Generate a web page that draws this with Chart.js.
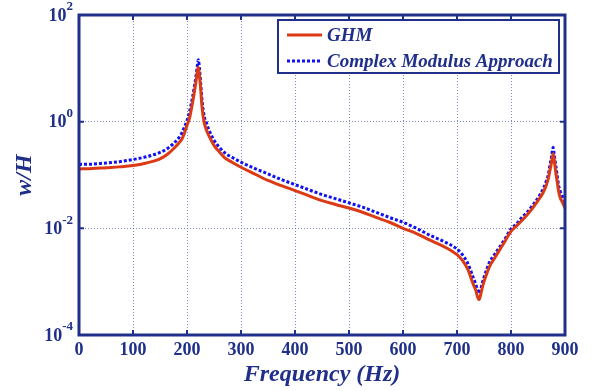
<!DOCTYPE html>
<html>
<head>
<meta charset="utf-8">
<script src="https://cdn.jsdelivr.net/npm/chart.js@4/dist/chart.umd.min.js"></script>
<style>
  html, body { margin: 0; padding: 0; background: #fff; }
  #wrap { width: 592px; height: 391px; }
</style>
</head>
<body>
<div id="wrap"><canvas id="frf"></canvas></div>
<script>
const freq = [0, 25, 50, 75, 100, 125, 150, 165, 175, 185, 190, 195, 200, 205, 210, 214, 217, 219, 221, 223, 225, 228, 232, 236, 240, 250, 260, 270, 285, 300, 325, 350, 375, 400, 425, 450, 475, 500, 525, 550, 575, 600, 625, 650, 675, 700, 710, 720, 730, 735, 738, 741, 744, 747, 750, 755, 760, 770, 780, 790, 800, 810, 820, 830, 840, 850, 855, 860, 865, 869, 872, 875, 878, 880, 883, 886, 888, 891, 895, 900]
const ghm = [0.13, 0.132, 0.137, 0.142, 0.15, 0.168, 0.2, 0.25, 0.31, 0.4, 0.46, 0.6, 0.85, 1.2, 2.2, 3.8, 6.0, 8.5, 10.5, 7.5, 4.6, 1.8, 0.95, 0.7, 0.56, 0.36, 0.27, 0.21, 0.17, 0.14, 0.105, 0.079, 0.063, 0.051, 0.041, 0.033, 0.028, 0.024, 0.02, 0.016, 0.013, 0.010, 0.008, 0.006, 0.0046, 0.0032, 0.0025, 0.0017, 0.0009, 0.00068, 0.00052, 0.00046, 0.00058, 0.00078, 0.001, 0.0014, 0.0019, 0.0028, 0.0041, 0.006, 0.0088, 0.011, 0.014, 0.018, 0.024, 0.033, 0.039, 0.048, 0.063, 0.085, 0.12, 0.17, 0.25, 0.19, 0.11, 0.07, 0.05, 0.038, 0.031, 0.024]
const cma = [0.158, 0.16, 0.168, 0.178, 0.195, 0.22, 0.265, 0.32, 0.39, 0.5, 0.6, 0.78, 1.05, 1.6, 2.8, 4.8, 7.5, 11, 14.5, 10, 5.8, 2.4, 1.25, 0.95, 0.72, 0.45, 0.33, 0.26, 0.21, 0.174, 0.133, 0.105, 0.082, 0.066, 0.053, 0.043, 0.036, 0.03, 0.025, 0.02, 0.016, 0.013, 0.01, 0.0074, 0.0057, 0.0041, 0.0032, 0.0022, 0.0012, 0.00088, 0.0007, 0.0006, 0.00072, 0.00095, 0.0012, 0.0017, 0.0023, 0.0033, 0.0046, 0.0066, 0.0098, 0.012, 0.016, 0.02, 0.027, 0.037, 0.045, 0.056, 0.075, 0.1, 0.15, 0.22, 0.33, 0.24, 0.15, 0.09, 0.065, 0.05, 0.04, 0.033]
const seriesNames = ['GHM', 'Complex Modulus Approach']
const xTicks = [0, 100, 200, 300, 400, 500, 600, 700, 800, 900]
const yTicks = [1e-4, 1e-2, 1, 1e2]
const yExp = ['-4', '-2', '0', '2']

const navy = '#1f2f8a'
const red = '#dc3a14'
const blue = '#1010f0'
const serif = '"Liberation Serif", "Times New Roman", serif'

// axis frame, y labels with exponents, legend box
const decor = {
  id: 'decor',
  afterDraw(chart) {
    const { ctx, chartArea: a, scales } = chart
    ctx.save()
    // inward tick marks
    ctx.strokeStyle = navy
    ctx.lineWidth = 2
    ctx.beginPath()
    xTicks.forEach((v) => {
      const px = scales.x.getPixelForValue(v)
      ctx.moveTo(px, a.bottom); ctx.lineTo(px, a.bottom - 5)
      ctx.moveTo(px, a.top); ctx.lineTo(px, a.top + 5)
    })
    yTicks.forEach((v) => {
      const py = scales.y.getPixelForValue(v)
      ctx.moveTo(a.left, py); ctx.lineTo(a.left + 5, py)
      ctx.moveTo(a.right, py); ctx.lineTo(a.right - 5, py)
    })
    ctx.stroke()
    ctx.lineWidth = 3
    ctx.strokeRect(a.left, a.top, a.right - a.left, a.bottom - a.top)

    // y tick labels 10^n
    ctx.fillStyle = navy
    ctx.textBaseline = 'middle'
    yTicks.forEach((v, i) => {
      const py = scales.y.getPixelForValue(v)
      ctx.font = 'bold 13px ' + serif
      const ew = ctx.measureText(yExp[i]).width
      ctx.textAlign = 'left'
      ctx.fillText(yExp[i], a.left - 6 - ew, py - 8)
      ctx.font = 'bold 18px ' + serif
      ctx.textAlign = 'right'
      ctx.fillText('10', a.left - 6 - ew, py + 1)
    })

    // legend
    const lx = 278, ly = 20, lw = 281, lh = 53
    ctx.fillStyle = '#fff'
    ctx.fillRect(lx, ly, lw, lh)
    ctx.lineWidth = 2
    ctx.strokeStyle = navy
    ctx.strokeRect(lx, ly, lw, lh)
    const rows = [ly + 15, ly + 41]
    const styles = [{ c: red, d: [] }, { c: blue, d: [3, 2] }]
    rows.forEach((ry, i) => {
      ctx.strokeStyle = styles[i].c
      ctx.lineWidth = 3
      ctx.setLineDash(styles[i].d)
      ctx.beginPath()
      ctx.moveTo(287, ry); ctx.lineTo(322, ry)
      ctx.stroke()
      ctx.setLineDash([])
      ctx.fillStyle = navy
      ctx.font = 'bold italic 19px ' + serif
      ctx.textAlign = 'left'
      ctx.fillText(seriesNames[i], 327, ry + 1)
    })
    ctx.restore()
  },
}

new Chart(document.getElementById('frf'), {
  type: 'line',
  data: {
    datasets: [
      {
        label: seriesNames[0],
        data: freq.map((f, i) => ({ x: f, y: ghm[i] })),
        borderColor: red,
        borderWidth: 3,
        pointRadius: 0,
        cubicInterpolationMode: 'monotone',
      },
      {
        label: seriesNames[1],
        data: freq.map((f, i) => ({ x: f, y: cma[i] })),
        borderColor: blue,
        borderWidth: 3,
        borderDash: [3, 2],
        pointRadius: 0,
        cubicInterpolationMode: 'monotone',
      },
    ],
  },
  options: {
    responsive: true,
    maintainAspectRatio: false,
    animation: false,
    layout: { padding: { top: 15, right: 27, left: 0, bottom: 0 } },
    scales: {
      x: {
        type: 'linear',
        min: 0,
        max: 900,
        afterBuildTicks: (s) => { s.ticks = xTicks.map((v) => ({ value: v })) },
        afterFit: (s) => { s.height = 56 },
        grid: { color: 'rgba(80,95,170,0.75)', lineWidth: 1, drawTicks: false },
        border: { display: false, dash: [1, 2] },
        ticks: {
          padding: 5,
          color: navy,
          font: { family: serif, size: 18, weight: 'bold' },
          maxRotation: 0,
        },
        title: {
          display: true,
          text: 'Frequency (Hz)',
          color: navy,
          padding: { top: 0, bottom: 2 },
          font: { family: serif, size: 24, weight: 'bold', style: 'italic' },
        },
      },
      y: {
        type: 'logarithmic',
        min: 1e-4,
        max: 1e2,
        afterBuildTicks: (s) => { s.ticks = yTicks.map((v) => ({ value: v })) },
        afterFit: (s) => { s.width = 79 },
        grid: { color: 'rgba(80,95,170,0.75)', lineWidth: 1, drawTicks: false },
        border: { display: false, dash: [1, 2] },
        ticks: { display: false },
        title: {
          display: true,
          text: 'w/H',
          color: navy,
          padding: { top: 10, bottom: 0 },
          font: { family: serif, size: 24, weight: 'bold', style: 'italic' },
        },
      },
    },
    plugins: {
      legend: { display: false },
      tooltip: { enabled: false },
    },
  },
  plugins: [decor],
})
</script>
</body>
</html>
